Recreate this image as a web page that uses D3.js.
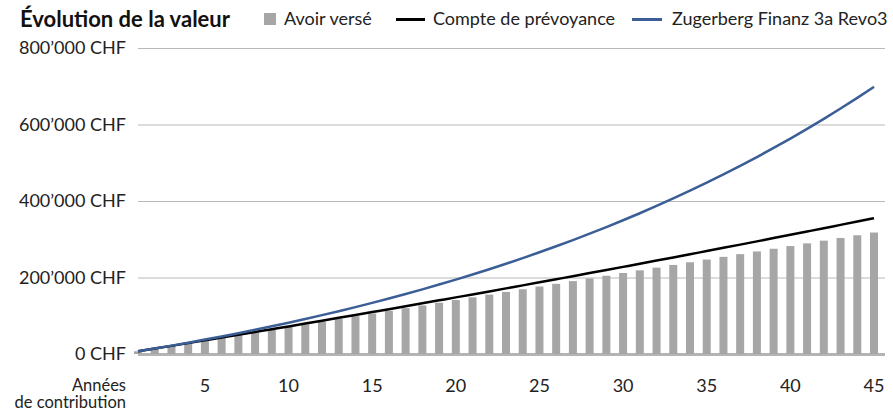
<!DOCTYPE html>
<html>
<head>
<meta charset="utf-8">
<script src="https://cdn.jsdelivr.net/npm/d3@7"></script>
<style>
  body { margin: 0; background: #fff; }
  svg { display: block; font-family: Lato, "Open Sans", sans-serif; }
</style>
</head>
<body>
<div class="chart"></div>
<script>
// years of contribution
var years = d3.range(1, 46);

// Avoir versé (paid in, CHF)
var paidIn = [7056, 14112, 21168, 28224, 35280, 42336, 49392, 56448, 63504, 70560,
  77616, 84672, 91728, 98784, 105840, 112896, 119952, 127008, 134064, 141120,
  148176, 155232, 162288, 169344, 176400, 183456, 190512, 197568, 204624, 211680,
  218736, 225792, 232848, 239904, 246960, 254016, 261072, 268128, 275184, 282240,
  289296, 296352, 303408, 310464, 317520];

// Compte de prévoyance
var account = [7056, 14147, 21274, 28436, 35634, 42868, 50138, 57445, 64788, 72168,
  79585, 87039, 94530, 102059, 109625, 117229, 124871, 132551, 140270, 148027,
  155823, 163658, 171532, 179446, 187399, 195392, 203425, 211498, 219612, 227766,
  235961, 244197, 252474, 260792, 269152, 277554, 285998, 294484, 303012, 311583,
  320197, 328854, 337554, 346298, 355086];

// Zugerberg Finanz 3a Revo3
var revo3 = [7056, 14341, 21863, 29630, 37649, 45929, 54478, 63305, 72418, 81828,
  91543, 101574, 111931, 122625, 133666, 145066, 156837, 168990, 181538, 194494,
  207871, 221683, 235944, 250668, 265871, 281568, 297775, 314509, 331787, 349626,
  368045, 387062, 406698, 426972, 447905, 469518, 491833, 514874, 538663, 563226,
  588587, 614772, 641808, 669723, 698545];

var yTicks = [0, 200000, 400000, 600000, 800000];
var xTicks = [5, 10, 15, 20, 25, 30, 35, 40, 45];

var width = 893, height = 411;
var grey = "#a6a6a6", blue = "#3a5e95";

var svg = d3.select(".chart").append("svg")
  .attr("width", width)
  .attr("height", height);

var x = d3.scaleLinear().domain([1, 45]).range([138, 874]);
var y = d3.scaleLinear().domain([0, 800000]).range([354, 48]);

// gridlines
svg.append("g")
  .selectAll("line")
  .data(yTicks)
  .enter()
  .append("line")
  .attr("x1", 138)
  .attr("x2", 885)
  .attr("y1", d => y(d) + 0.5)
  .attr("y2", d => y(d) + 0.5)
  .attr("stroke", d => d === 0 ? "#b4b4b4" : "#b9b9b9")
  .attr("stroke-width", d => d === 0 ? 3 : 1);

// y labels
svg.append("g")
  .selectAll("text")
  .data(yTicks)
  .enter()
  .append("text")
  .attr("x", 126)
  .attr("y", d => y(d))
  .attr("dy", "0.35em")
  .attr("text-anchor", "end")
  .attr("font-size", 18)
  .attr("fill", "#222")
  .text(d => d3.format(",")(d).replace(/,/g, "\u2019") + " CHF");

// bars
var barW = 8;
svg.append("g")
  .selectAll("rect")
  .data(paidIn)
  .enter()
  .append("rect")
  .attr("x", (d, i) => x(years[i]) - barW / 2)
  .attr("y", d => y(d))
  .attr("width", barW)
  .attr("height", d => y(0) - y(d))
  .attr("fill", grey);

var line = d3.line()
  .x((d, i) => x(years[i]))
  .y(d => y(d))
  .curve(d3.curveMonotoneX);

svg.append("path")
  .datum(account)
  .attr("fill", "none")
  .attr("stroke", "#000")
  .attr("stroke-width", 2.5)
  .attr("stroke-linejoin", "round")
  .attr("d", line);

svg.append("path")
  .datum(revo3)
  .attr("fill", "none")
  .attr("stroke", blue)
  .attr("stroke-width", 2.5)
  .attr("stroke-linejoin", "round")
  .attr("d", line);

// x labels
svg.append("g")
  .selectAll("text")
  .data(xTicks)
  .enter()
  .append("text")
  .attr("x", d => x(d))
  .attr("y", 392)
  .attr("text-anchor", "middle")
  .attr("font-size", 18)
  .attr("fill", "#222")
  .text(d => d);

svg.append("text")
  .attr("x", 126).attr("y", 391)
  .attr("text-anchor", "end").attr("font-size", 16.5).attr("fill", "#222")
  .text("Années");
svg.append("text")
  .attr("x", 126).attr("y", 408)
  .attr("text-anchor", "end").attr("font-size", 16.5).attr("fill", "#222")
  .text("de contribution");

// title
svg.append("text")
  .attr("x", 20).attr("y", 27)
  .attr("font-size", 22).attr("font-weight", 700).attr("fill", "#111")
  .text("Évolution de la valeur");

// legend
var legend = svg.append("g").attr("font-size", 18).attr("fill", "#222");
legend.append("rect")
  .attr("x", 264).attr("y", 13).attr("width", 12).attr("height", 12)
  .attr("fill", grey);
legend.append("text").attr("x", 284).attr("y", 25).text("Avoir versé");
legend.append("line")
  .attr("x1", 396).attr("x2", 425).attr("y1", 19.5).attr("y2", 19.5)
  .attr("stroke", "#000").attr("stroke-width", 3);
legend.append("text").attr("x", 433).attr("y", 25).text("Compte de prévoyance");
legend.append("line")
  .attr("x1", 632).attr("x2", 662).attr("y1", 19.5).attr("y2", 19.5)
  .attr("stroke", blue).attr("stroke-width", 3);
legend.append("text").attr("x", 672).attr("y", 25).text("Zugerberg Finanz 3a Revo3");
</script>
</body>
</html>
